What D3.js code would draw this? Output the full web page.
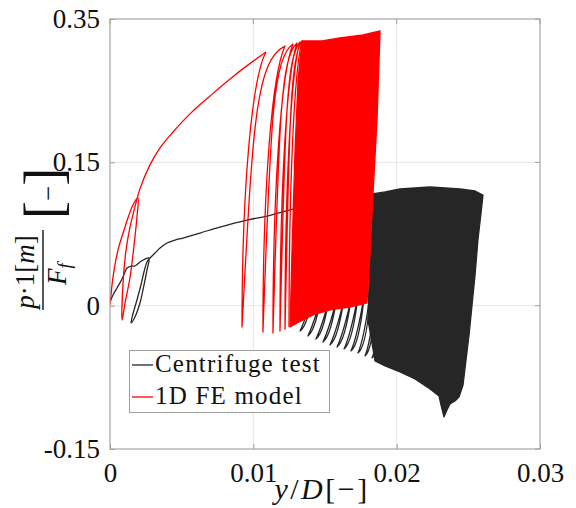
<!DOCTYPE html>
<html>
<head>
<meta charset="utf-8">
<script src="https://cdn.jsdelivr.net/npm/d3@7"></script>
<style>
body { margin: 0; background: #fff; }
svg { display: block; }
</style>
</head>
<body>
<svg id="chart"></svg>
<script>
// axis ticks (the top y tick is labelled 0.35 in the original figure)
const xTicks = [0, 0.01, 0.02, 0.03];
const xTickLabels = ["0", "0.01", "0.02", "0.03"];
const yTicks = [-0.15, 0, 0.15, 0.30];
const yTickLabels = ["-0.15", "0", "0.15", "0.35"];
const seriesNames = ["Centrifuge test", "1D FE model"];

// 1D FE model: virgin loading, first small cycle and the envelope up to the first big peak
const redStart = [
  [0, 0.0007], [0.00007, 0.0112], [0.00021, 0.0300], [0.00056, 0.0583], [0.00105, 0.0824],
  [0.0016, 0.1054], [0.00195, 0.1127], [0.00188, 0.0928], [0.00174, 0.0718], [0.0014, 0.0300],
  [0.00105, 0.0028], [0.00084, -0.0150], [0.00091, 0.0237], [0.00112, 0.0583], [0.0014, 0.0824],
  [0.00174, 0.1033], [0.00209, 0.1222], [0.00279, 0.1473], [0.00349, 0.1651], [0.0044, 0.1818],
  [0.00558, 0.2007], [0.00698, 0.2195], [0.00872, 0.2415], [0.01088, 0.2655]
];
// separate cycles: reversal points
const redPeaks = [
  [0.01088, 0.2655], [0.01221, 0.2717], [0.01277, 0.2738], [0.01305, 0.2749], [0.01326, 0.2759], [0.0134, 0.2770]
];
const redTroughs = [
  [0.00921, -0.0223], [0.01067, -0.0276], [0.01137, -0.0286], [0.01186, -0.0265], [0.01221, -0.0244], [0.01249, -0.0223]
];
// later cycles overlap into a solid band: its outline
const redBand = [
  [0.0134, 0.2770], [0.01479, 0.2770], [0.01605, 0.2801], [0.01765, 0.2833], [0.01884, 0.2875],
  [0.01863, 0.1942], [0.01835, 0.1178], [0.01814, 0.0541], [0.01793, 0.0028], [0.01674, -0.0014],
  [0.01535, -0.0045], [0.01416, -0.0097], [0.01305, -0.0181], [0.01256, -0.0223], [0.0127, 0.0583],
  [0.01291, 0.1629], [0.01312, 0.2362]
];

// Centrifuge test: first loading with the small early loop
const blackStart = [
  [0, 0.0038], [0.00021, 0.0112], [0.00049, 0.0185], [0.00084, 0.0279], [0.00119, 0.0394],
  [0.00147, 0.0415], [0.00174, 0.0415], [0.00209, 0.0457], [0.00244, 0.0488], [0.00272, 0.0499],
  [0.00258, 0.0373], [0.00237, 0.0216], [0.00209, 0.0028], [0.00174, -0.0118], [0.00147, -0.0180],
  [0.0016, -0.0087], [0.00188, 0.0059], [0.00216, 0.0216], [0.00237, 0.0352], [0.00258, 0.0457],
  [0.00279, 0.0499], [0.00314, 0.0551], [0.00349, 0.0603], [0.00398, 0.0656], [0.00454, 0.0687],
  [0.00509, 0.0708], [0.00628, 0.0760], [0.00767, 0.0823], [0.00956, 0.0896], [0.01095, 0.0938],
  [0.01277, 0.1011], [0.01465, 0.1064]
];
const blackPeaks = [
  [0.01465, 0.1064], [0.01521, 0.1075], [0.01577, 0.1085], [0.01633, 0.1096], [0.01681, 0.1106],
  [0.0173, 0.1117], [0.01772, 0.1127], [0.01807, 0.1138], [0.01842, 0.1148], [0.0187, 0.1158],
  [0.01898, 0.1169], [0.01919, 0.1179], [0.0194, 0.1190]
];
const blackTroughs = [
  [0.01326, -0.0265], [0.01381, -0.0317], [0.01437, -0.0349], [0.01486, -0.0380], [0.01535, -0.0411],
  [0.01584, -0.0432], [0.01633, -0.0453], [0.01681, -0.0474], [0.0173, -0.0495], [0.01779, -0.0526],
  [0.01828, -0.0547], [0.0187, -0.0568]
];
const blackBand = [
  [0.01828, 0.1169], [0.01919, 0.1190], [0.02023, 0.1221], [0.02233, 0.1242], [0.02442, 0.1221],
  [0.02547, 0.1200], [0.02602, 0.1158], [0.02595, 0.1054], [0.02567, 0.0687], [0.02547, 0.0321],
  [0.02526, 0.0007], [0.02505, -0.0307], [0.02484, -0.0568], [0.02463, -0.0830], [0.02435, -0.0955],
  [0.02407, -0.0997], [0.02372, -0.1028], [0.02351, -0.1091], [0.0233, -0.1164], [0.02309, -0.1039],
  [0.02295, -0.0945], [0.02233, -0.0872], [0.02128, -0.0767], [0.02023, -0.0694], [0.01919, -0.0631],
  [0.01849, -0.0579], [0.018, -0.0150], [0.01814, 0.0583], [0.01821, 0.1107]
];

const width = 576, height = 508;
const marginLeft = 110, marginRight = 36, marginTop = 19, marginBottom = 59;
const red = "#ff0000", black = "#262626";
const serif = "'Liberation Serif', 'Times New Roman', serif";

const svg = d3.select("#chart")
  .attr("width", width)
  .attr("height", height)
  .attr("viewBox", [0, 0, width, height]);

const x = d3.scaleLinear().domain([0, 0.03]).range([marginLeft, width - marginRight]);
const y = d3.scaleLinear().domain([-0.15, 0.30]).range([height - marginBottom, marginTop]);

svg.append("defs").append("clipPath").attr("id", "plot")
  .append("rect")
  .attr("x", x(0)).attr("y", y(0.30))
  .attr("width", x(0.03) - x(0)).attr("height", y(-0.15) - y(0.30));

// grid
svg.append("g")
  .attr("stroke", "#e6e6e6")
  .call(g => g.selectAll("line.vx").data(xTicks).join("line")
    .attr("x1", d => x(d)).attr("x2", d => x(d))
    .attr("y1", y(0.30)).attr("y2", y(-0.15)))
  .call(g => g.selectAll("line.hy").data(yTicks).join("line")
    .attr("x1", x(0)).attr("x2", x(0.03))
    .attr("y1", d => y(d)).attr("y2", d => y(d)));

// cycles drawn between reversal points (s = curve shape of the unload / reload branches)
function cycles(peaks, troughs, s) {
  const p = d3.path();
  const P = peaks.map(d => [x(d[0]), y(d[1])]);
  const T = troughs.map(d => [x(d[0]), y(d[1])]);
  p.moveTo(P[0][0], P[0][1]);
  T.forEach((t, i) => {
    const a = P[i], dx = a[0] - t[0], dy = t[1] - a[1];
    p.bezierCurveTo(a[0] - s.u1x * dx, a[1] + s.u1y * dy,
                    t[0] + s.u2x * dx + (s.u2px || 0), t[1] - s.u2y * dy + (s.u2py || 0), t[0], t[1]);
    const b = P[i + 1];
    if (!b) return;
    const ex = b[0] - t[0], ey = t[1] - b[1];
    p.bezierCurveTo(t[0] + s.r1x * ex + (s.r1px || 0), t[1] - s.r1y * ey + (s.r1py || 0),
                    t[0] + s.r2x * ex, b[1] + s.r2y * ey, b[0], b[1]);
  });
  return p.toString();
}

const line = d3.line().x(d => x(d[0])).y(d => y(d[1])).curve(d3.curveCatmullRom);
const band = d3.line().x(d => x(d[0])).y(d => y(d[1])).curve(d3.curveLinearClosed);

const plot = svg.append("g").attr("clip-path", "url(#plot)")
  .attr("fill", "none").attr("stroke-width", 1.3).attr("stroke-linejoin", "round");

// centrifuge test
plot.append("path").attr("d", line(blackStart)).attr("stroke", black);
plot.append("path")
  .attr("d", cycles(blackPeaks, blackTroughs,
    { u1x: 0.05, u1y: 0.5, u2x: 0, u2y: 0, u2px: 11, u2py: -8,
      r1x: 0, r1y: 0, r1px: 6, r1py: -13, r2x: 0.9, r2y: 0.5 }))
  .attr("stroke", black);
plot.append("path").attr("d", band(blackBand)).attr("fill", black).attr("stroke", black);

// 1D FE model
plot.append("path").attr("d", line(redStart)).attr("stroke", red);
plot.append("path")
  .attr("d", cycles(redPeaks, redTroughs,
    { u1x: 0.6, u1y: 0.1, u2x: 0, u2y: 0.5, r1x: 0.25, r1y: 0.7, r2x: 0.3, r2y: 0.05 }))
  .attr("stroke", red);
plot.append("path").attr("d", band(redBand)).attr("fill", red).attr("stroke", red);

// axes, box and ticks
const axisColor = "#a0a0a0";
svg.append("rect")
  .attr("x", x(0)).attr("y", y(0.30))
  .attr("width", x(0.03) - x(0)).attr("height", y(-0.15) - y(0.30))
  .attr("fill", "none").attr("stroke", axisColor);

svg.append("g")
  .attr("transform", `translate(0,${y(-0.15)})`)
  .call(d3.axisBottom(x).tickValues(xTicks).tickFormat((d, i) => xTickLabels[i])
    .tickSizeInner(-5).tickSizeOuter(0).tickPadding(14))
  .call(g => g.select(".domain").remove())
  .call(g => g.selectAll(".tick line").attr("stroke", axisColor))
  .call(g => g.selectAll(".tick text").attr("font-family", serif).attr("font-size", 27).attr("fill", "#111"));

svg.append("g")
  .attr("transform", `translate(${x(0)},0)`)
  .call(d3.axisLeft(y).tickValues(yTicks).tickFormat((d, i) => yTickLabels[i])
    .tickSizeInner(-5).tickSizeOuter(0).tickPadding(10))
  .call(g => g.select(".domain").remove())
  .call(g => g.selectAll(".tick line").attr("stroke", axisColor))
  .call(g => g.selectAll(".tick text").attr("font-family", serif).attr("font-size", 27).attr("fill", "#111"));

// ticks on top and right
svg.append("g").attr("stroke", axisColor)
  .call(g => g.selectAll("line.t").data(xTicks).join("line")
    .attr("x1", d => x(d)).attr("x2", d => x(d)).attr("y1", y(0.30)).attr("y2", y(0.30) + 5))
  .call(g => g.selectAll("line.r").data(yTicks).join("line")
    .attr("x1", x(0.03)).attr("x2", x(0.03) - 5).attr("y1", d => y(d)).attr("y2", d => y(d)));

// x label
svg.append("text")
  .attr("x", 322).attr("y", 499)
  .attr("text-anchor", "middle")
  .attr("font-family", serif).attr("font-size", 30).attr("letter-spacing", 2.5).attr("fill", "#111")
  .call(t => {
    t.append("tspan").attr("font-style", "italic").text("y");
    t.append("tspan").text("/");
    t.append("tspan").attr("font-style", "italic").text("D");
    t.append("tspan").text("[−]");
  });

// y label: fraction, rotated
const yl = svg.append("g")
  .attr("transform", "translate(43,270) rotate(-90)")
  .attr("font-family", serif).attr("fill", "#111");
yl.append("text").attr("x", -2).attr("y", -9).attr("text-anchor", "middle").attr("font-size", 27)
  .call(t => {
    t.append("tspan").attr("font-style", "italic").text("p");
    t.append("tspan").text("·1[");
    t.append("tspan").attr("font-style", "italic").text("m");
    t.append("tspan").text("]");
  });
yl.append("line").attr("x1", -40).attr("x2", 40).attr("y1", 0).attr("y2", 0)
  .attr("stroke", "#111").attr("stroke-width", 1.4);
yl.append("text").attr("x", -4).attr("y", 23).attr("text-anchor", "middle").attr("font-size", 27)
  .call(t => {
    t.append("tspan").attr("font-style", "italic").text("F");
    t.append("tspan").attr("font-style", "italic").attr("font-size", 19).attr("dy", 5).text("f");
  });
yl.append("text").attr("x", 51).attr("y", 19).attr("font-size", 54)
  .call(t => {
    t.append("tspan").text("[");
    t.append("tspan").attr("font-size", 27).attr("dy", -5).text("−");
    t.append("tspan").attr("dy", 5).text("]");
  });

// legend
const legend = svg.append("g");
legend.append("rect")
  .attr("x", 129.5).attr("y", 350.5).attr("width", 200).attr("height", 62)
  .attr("fill", "#fff").attr("stroke", axisColor);
[black, red].forEach((c, i) => {
  const ly = 365 + i * 32;
  legend.append("line")
    .attr("x1", 132).attr("x2", 153).attr("y1", ly).attr("y2", ly)
    .attr("stroke", c).attr("stroke-width", 1.3);
  legend.append("text")
    .attr("x", 155).attr("y", ly + 7)
    .attr("font-family", serif).attr("font-size", 25).attr("letter-spacing", 1.2).attr("fill", "#111")
    .text(seriesNames[i]);
});
</script>
</body>
</html>
